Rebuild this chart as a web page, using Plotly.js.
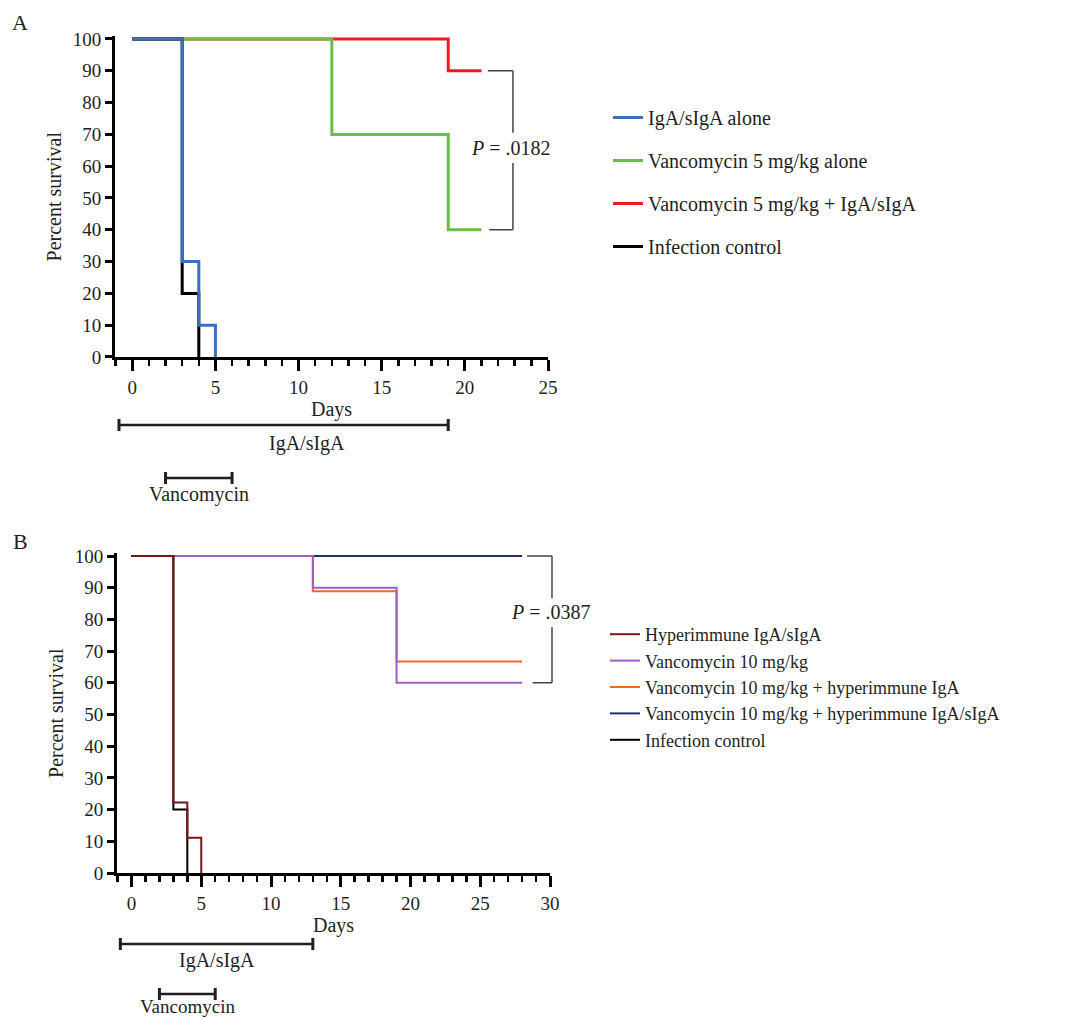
<!DOCTYPE html>
<html><head><meta charset="utf-8">
<script src="https://cdn.plot.ly/plotly-3.0.1.min.js"></script>
<style>html,body{margin:0;padding:0;background:#fff}</style>
</head><body>
<div id="chart" style="width:1074px;height:1020px"></div>
<script>
// ---------- Panel A data ----------
const namesA = ['IgA/sIgA alone', 'Vancomycin 5 mg/kg alone', 'Vancomycin 5 mg/kg + IgA/sIgA', 'Infection control'];
const daysIgaA = [0, 3, 4, 5];
const survIgaA = [100, 30, 10, 0];
const daysVancA = [0, 12, 19, 21];
const survVancA = [100, 70, 40, 40];
const daysComboA = [0, 19, 21];
const survComboA = [100, 90, 90];
const daysCtrlA = [0, 3, 4];
const survCtrlA = [100, 20, 0];
const pValueA = '.0182';
const igaPeriodA = [-0.8, 19];
const vancPeriodA = [2, 6];

// ---------- Panel B data ----------
const namesB = ['Hyperimmune IgA/sIgA', 'Vancomycin 10 mg/kg', 'Vancomycin 10 mg/kg + hyperimmune IgA', 'Vancomycin 10 mg/kg + hyperimmune IgA/sIgA', 'Infection control'];
const daysHyperB = [0, 3, 4, 5];
const survHyperB = [100, 22.2, 11.1, 0];
const daysVancB = [0, 13, 19, 28];
const survVancB = [100, 90, 60, 60];
const daysVancIgaB = [0, 13, 19, 28];
const survVancIgaB = [100, 88.9, 66.7, 66.7];
const daysVancIgaSB = [0, 28];
const survVancIgaSB = [100, 100];
const daysCtrlB = [0, 3, 4];
const survCtrlB = [100, 20, 0];
const pValueB = '.0387';
const igaPeriodB = [-0.8, 13];
const vancPeriodB = [2, 6];

// ---------- Axis ticks ----------
const yTicks = [0, 10, 20, 30, 40, 50, 60, 70, 80, 90, 100];
const xTicksA = [0, 5, 10, 15, 20, 25];
const xTicksB = [0, 5, 10, 15, 20, 25, 30];

const FONT = '"Liberation Serif", "Times New Roman", serif';
const TXT = '#231f20';

function km(x, y, name, color, width, xa, ya, legend, rank) {
  return {
    type: 'scatter', mode: 'lines', x: x, y: y, name: name,
    line: { color: color, width: width, shape: 'hv' },
    xaxis: xa, yaxis: ya, legend: legend, legendrank: rank,
    legendgroup: xa + rank, hoverinfo: 'skip'
  };
}

const traces = [
  km(daysComboA, survComboA, namesA[2], '#ed1c24', 3, 'x', 'y', 'legend', 3),
  km(daysVancA, survVancA, namesA[1], '#6cbd45', 3, 'x', 'y', 'legend', 2),
  km(daysCtrlA, survCtrlA, namesA[3], '#000000', 3, 'x', 'y', 'legend', 4),
  km(daysIgaA, survIgaA, namesA[0], '#3b6fc3', 3, 'x', 'y', 'legend', 1),
  km(daysVancIgaSB, survVancIgaSB, namesB[3], '#1f2f6b', 2, 'x2', 'y2', 'legend2', 4),
  km(daysVancIgaB, survVancIgaB, namesB[2], '#f26522', 2, 'x2', 'y2', 'legend2', 3),
  km(daysVancB, survVancB, namesB[1], '#a05fc0', 2, 'x2', 'y2', 'legend2', 2),
  km(daysCtrlB, survCtrlB, namesB[4], '#000000', 2, 'x2', 'y2', 'legend2', 5),
  km(daysHyperB, survHyperB, namesB[0], '#7b1416', 2, 'x2', 'y2', 'legend2', 1)
];

const Y_TOP = 100.8; // a little head-room so the 100 % lines are not clipped

function xAxis(domain, range, ticks, anchor) {
  return {
    domain: domain, range: range, anchor: anchor,
    tickmode: 'array', tickvals: ticks, ticks: 'outside', ticklen: 11, tickwidth: 3, tickcolor: '#000',
    minor: { dtick: 1, tick0: 0, ticks: 'outside', ticklen: 6, tickwidth: 2.5, tickcolor: '#000', showgrid: false },
    showline: true, linewidth: 3, linecolor: '#000', showgrid: false, zeroline: false,
    tickfont: { family: FONT, size: 19, color: TXT },
    title: { text: 'Days', font: { family: FONT, size: 20, color: TXT }, standoff: 6 },
    fixedrange: true
  };
}
function yAxis(domain, anchor) {
  return {
    domain: domain, range: [0, Y_TOP], anchor: anchor,
    tickmode: 'array', tickvals: yTicks, ticks: 'outside', ticklen: 7, tickwidth: 3, tickcolor: '#000',
    showline: true, linewidth: 3, linecolor: '#000', showgrid: false, zeroline: false,
    tickfont: { family: FONT, size: 19, color: TXT },
    title: { text: 'Percent survival', font: { family: FONT, size: 20, color: TXT }, standoff: 6 },
    fixedrange: true
  };
}

const W = 1074, H = 1020;
const shapes = [];
const annotations = [];

function bracket(xa, ya, yTop, yBot, gapTop, gapBot, xl1, xl2, xv, p, yText, xText) {
  const st = { color: '#444', width: 1.5 };
  shapes.push({ type: 'line', xref: xa + ' domain', yref: ya, x0: xl1, x1: xv, y0: yTop, y1: yTop, line: st });
  shapes.push({ type: 'line', xref: xa + ' domain', yref: ya, x0: xv, x1: xv, y0: yTop, y1: gapTop, line: st });
  shapes.push({ type: 'line', xref: xa + ' domain', yref: ya, x0: xv, x1: xv, y0: gapBot, y1: yBot, line: st });
  shapes.push({ type: 'line', xref: xa + ' domain', yref: ya, x0: xl2, x1: xv, y0: yBot, y1: yBot, line: st });
  annotations.push({ xref: xa + ' domain', yref: ya, x: xText, y: yText, text: '<i>P</i> = ' + p,
    showarrow: false, xanchor: 'center', yanchor: 'middle', bgcolor: 'rgba(0,0,0,0)',
    font: { family: FONT, size: 20, color: TXT } });
}
bracket('x', 'y', survComboA[survComboA.length - 1], survVancA[survVancA.length - 1], 70.5, 61, 0.861, 0.864, 0.919, pValueA, 65.8, 0.915);
bracket('x2', 'y2', survVancIgaSB[survVancIgaSB.length - 1], survVancB[survVancB.length - 1], 86.7, 77.5, 0.947, 0.96, 1.0046, pValueB, 82.2, 1.002);

function period(xa, rng, yPx, label, labelX, labelYPx, fs) {
  const st = { color: '#231f20', width: 2.5 };
  const y = 1 - yPx / H, cap = 6 / H;
  shapes.push({ type: 'line', xref: xa, yref: 'paper', x0: rng[0], x1: rng[1], y0: y, y1: y, line: st });
  shapes.push({ type: 'line', xref: xa, yref: 'paper', x0: rng[0], x1: rng[0], y0: y - cap, y1: y + cap, line: { color: '#231f20', width: 3 } });
  shapes.push({ type: 'line', xref: xa, yref: 'paper', x0: rng[1], x1: rng[1], y0: y - cap, y1: y + cap, line: { color: '#231f20', width: 3 } });
  annotations.push({ xref: xa, yref: 'paper', x: labelX, y: 1 - labelYPx / H, text: label, showarrow: false,
    xanchor: 'center', yanchor: 'middle', font: { family: FONT, size: fs, color: TXT } });
}
period('x', igaPeriodA, 425, 'IgA/sIgA', 10.5, 443, 20);
period('x', vancPeriodA, 478, 'Vancomycin', (vancPeriodA[0] + vancPeriodA[1]) / 2, 494, 20);
period('x2', igaPeriodB, 944, 'IgA/sIgA', (igaPeriodB[0] + igaPeriodB[1]) / 2, 960, 20);
period('x2', vancPeriodB, 994, 'Vancomycin', (vancPeriodB[0] + vancPeriodB[1]) / 2, 1006, 19);

annotations.push({ xref: 'paper', yref: 'paper', x: 20 / W, y: 1 - 22 / H, text: 'A', showarrow: false,
  xanchor: 'center', yanchor: 'middle', font: { family: FONT, size: 22, color: TXT } });
annotations.push({ xref: 'paper', yref: 'paper', x: 20 / W, y: 1 - 541 / H, text: 'B', showarrow: false,
  xanchor: 'center', yanchor: 'middle', font: { family: FONT, size: 22, color: TXT } });

// plot-area pixel geometry (y = 100 at topPx, y = 0 at bottomPx)
function yDomain(topPx, bottomPx) {
  const pxPerUnit = (bottomPx - topPx) / 100;
  return [1 - bottomPx / H, 1 - (topPx - (Y_TOP - 100) * pxPerUnit) / H];
}

const layout = {
  width: W, height: H,
  margin: { l: 0, r: 0, t: 0, b: 0 },
  paper_bgcolor: '#fff', plot_bgcolor: '#fff',
  showlegend: true,
  xaxis: xAxis([115 / W, 548 / W], [-1.04, 25], xTicksA, 'y'),
  yaxis: yAxis(yDomain(39, 357), 'x'),
  xaxis2: xAxis([117 / W, 550 / W], [-1.04, 30], xTicksB, 'y2'),
  yaxis2: yAxis(yDomain(556, 873), 'x2'),
  legend: { x: 608 / W, y: 1 - 98 / H, xanchor: 'left', yanchor: 'top', bgcolor: 'rgba(0,0,0,0)',
    borderwidth: 0, tracegroupgap: 14, font: { family: FONT, size: 20, color: TXT } },
  legend2: { x: 605 / W, y: 1 - 616 / H, xanchor: 'left', yanchor: 'top', bgcolor: 'rgba(0,0,0,0)',
    borderwidth: 0, tracegroupgap: 0, font: { family: FONT, size: 18, color: TXT } },
  shapes: shapes,
  annotations: annotations
};

Plotly.newPlot('chart', traces, layout, { displayModeBar: false, staticPlot: true });
</script>
</body></html>
